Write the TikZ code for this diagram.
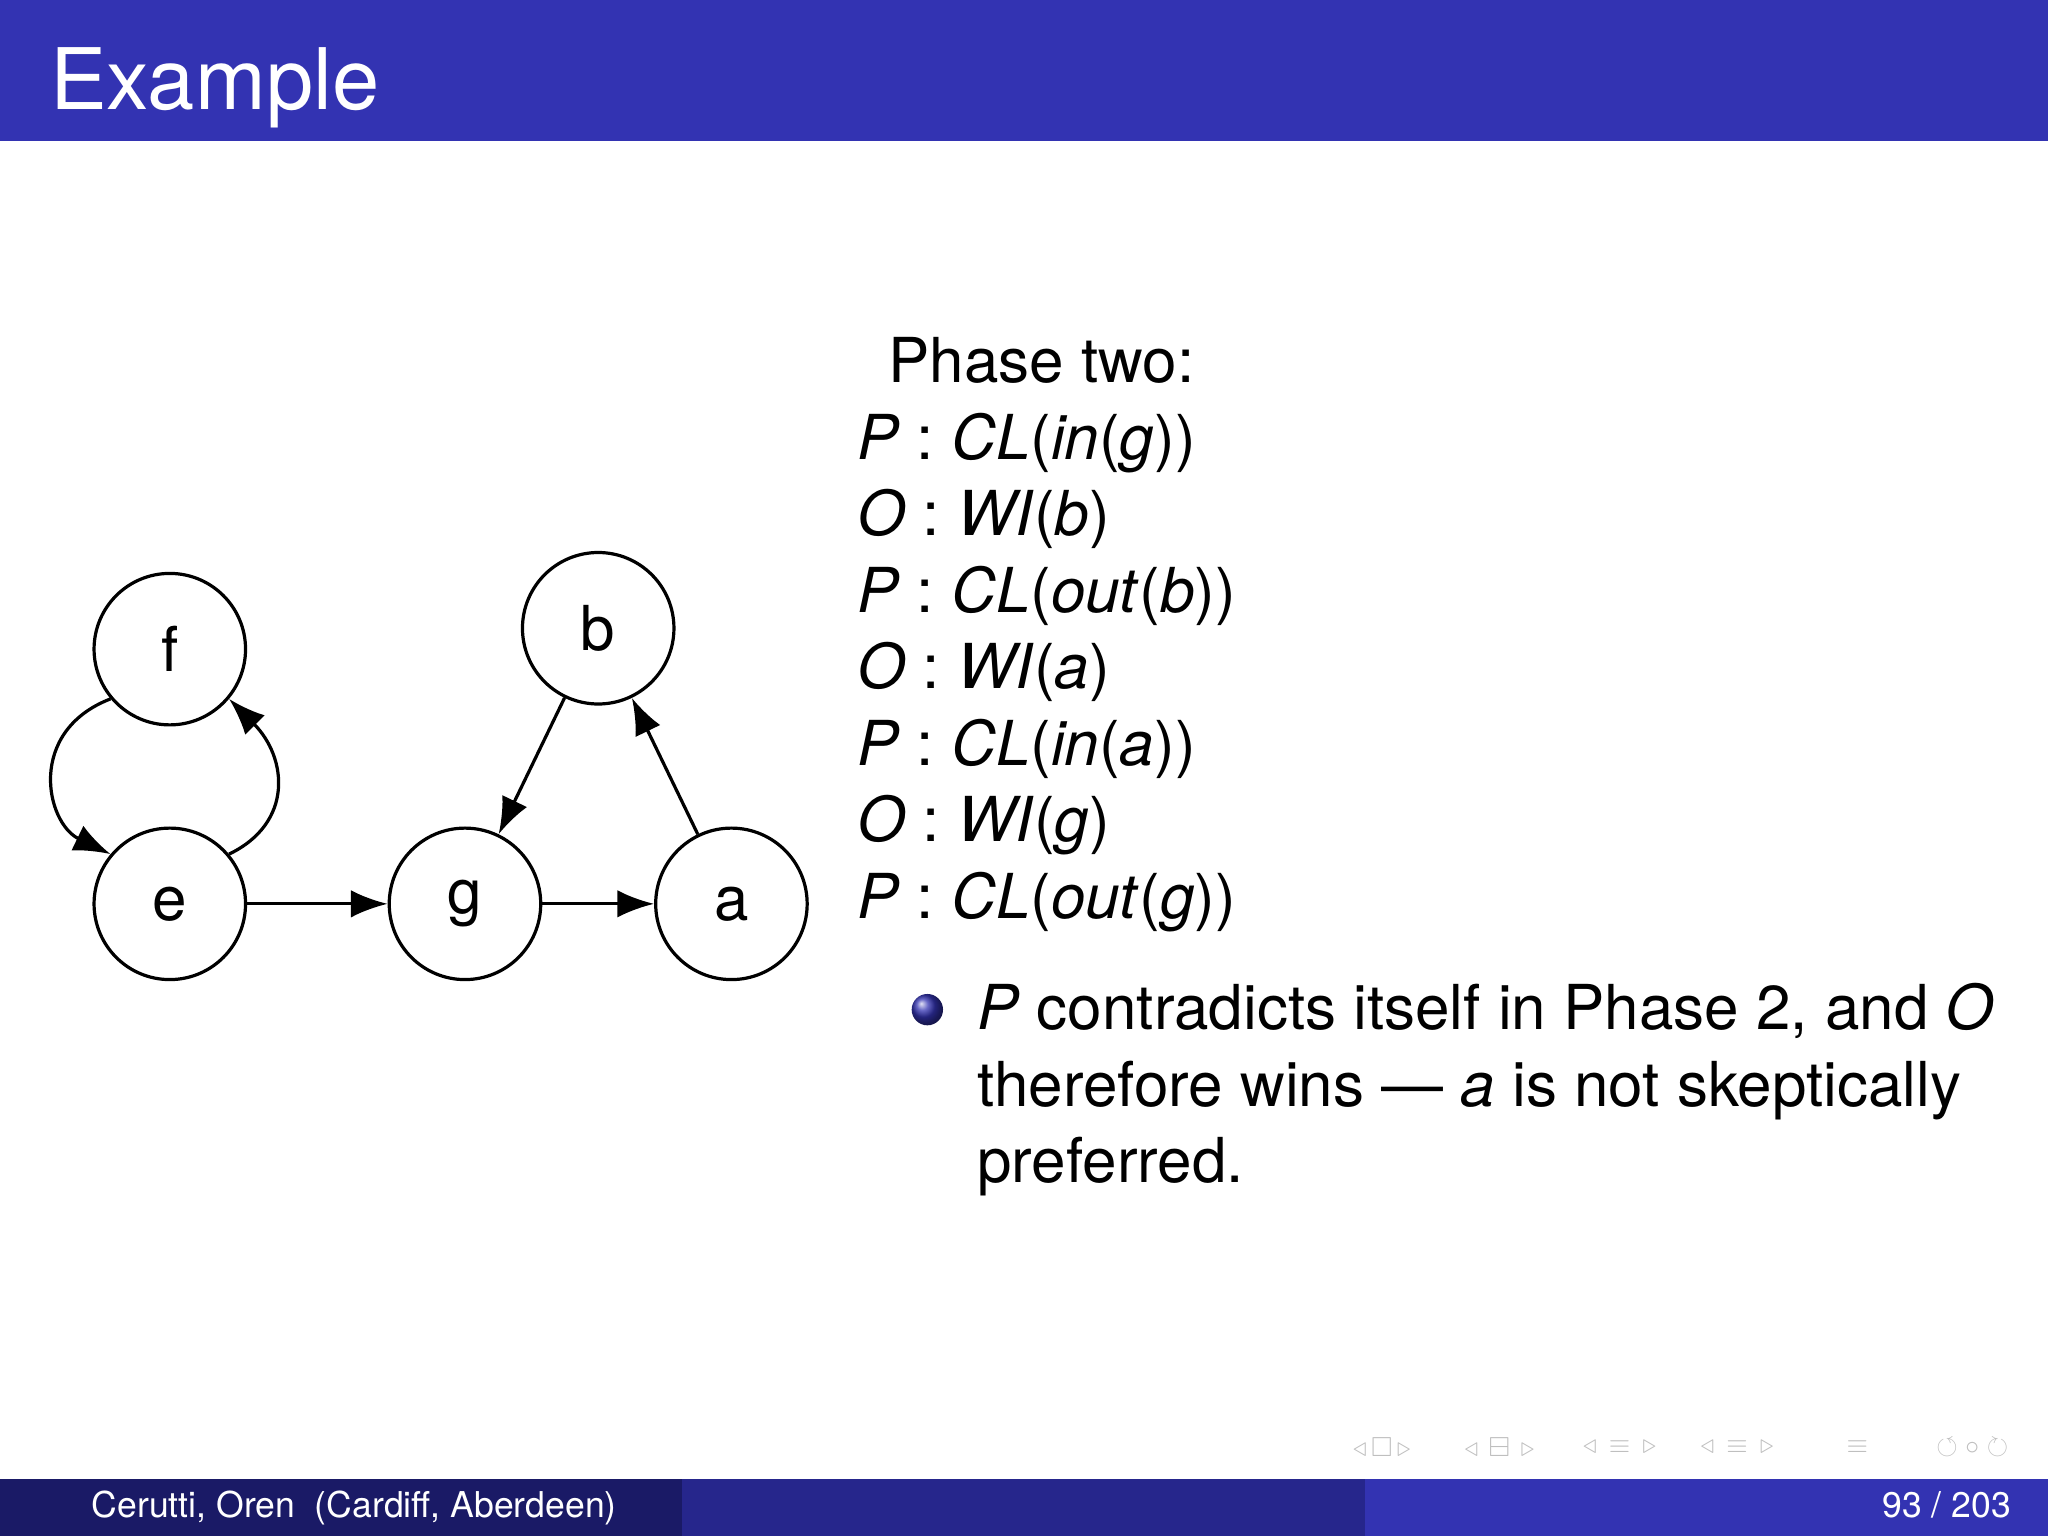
\documentclass[tikz,border=0pt]{standalone}
\usepackage{amssymb}
\usepackage{fontspec}
\setmainfont{TeX Gyre Heros}
\usetikzlibrary{arrows.meta,shadings}
\definecolor{bar}{HTML}{3333B2}
\definecolor{barA}{HTML}{1A1A66}
\definecolor{barB}{HTML}{26268C}
\begin{document}
\begin{tikzpicture}[x=0.02cm,y=-0.02cm,
  st/.style={circle,draw,line width=1.4pt,minimum size=2.32cm,inner sep=0pt,font=\fontsize{27}{33}\selectfont},
  ed/.style={line width=1.4pt,-{Latex[length=16pt,width=12pt]}},
  tx/.style={anchor=base west,inner sep=0pt,font=\fontsize{27}{33}\selectfont},
  nav/.style={text=gray!50,font=\fontsize{12}{12}\selectfont,inner sep=0pt}]
\useasboundingbox (0,0) rectangle (1568,1176);
\fill[bar] (0,0) rectangle (1568,108);
\node[anchor=base west,text=white,inner sep=0pt,font=\fontsize{37}{44}\selectfont] (title) at (38,84) {Example};
\fill[barA] (0,1132) rectangle (522,1176);
\fill[barB] (522,1132) rectangle (1045,1176);
\fill[bar] (1045,1132) rectangle (1568,1176);
\node[anchor=base west,text=white,inner sep=0pt,font=\fontsize{15.5}{19}\selectfont] (fl) at (70,1162) {Cerutti, Oren\ \ (Cardiff, Aberdeen)};
\node[anchor=base east,text=white,inner sep=0pt,font=\fontsize{15.5}{19}\selectfont] (fr) at (1540,1162) {93 / 203};
% nodes
\node[st] (f) at (130,497) {f};
\node[st] (b) at (458,481) {b};
\node[st] (e) at (130,692) {e};
\node[st] (g) at (356,692) {g};
\node[st] (a) at (560,692) {a};
\draw[ed] (e) -- (g);
\draw[ed] (g) -- (a);
\draw[ed] (a) -- (b);
\draw[ed] (b) -- (g);
\draw[ed] (f.220) .. controls (20,560) and (35,630) .. (e.140);
\draw[ed] (e.40) .. controls (225,630) and (220,580) .. (f.320);
% text
\node[tx] (h) at (680,293) {Phase two:};
\node[tx] (l1) at (656,352) {\textit{P} : \textit{CL}(\textit{in}(\textit{g}))};
\node[tx] (l2) at (656,410) {\textit{O} : \textit{WI}(\textit{b})};
\node[tx] (l3) at (656,469) {\textit{P} : \textit{CL}(\textit{out}(\textit{b}))};
\node[tx] (l4) at (656,527) {\textit{O} : \textit{WI}(\textit{a})};
\node[tx] (l5) at (656,586) {\textit{P} : \textit{CL}(\textit{in}(\textit{a}))};
\node[tx] (l6) at (656,644) {\textit{O} : \textit{WI}(\textit{g})};
\node[tx] (l7) at (656,703) {\textit{P} : \textit{CL}(\textit{out}(\textit{g}))};
\shade[ball color=bar] (710,773) circle (12);
\node[tx] (t1) at (748,788) {\textit{P} contradicts itself in Phase 2, and \textit{O}};
\node[tx] (t2) at (748,847) {therefore wins --- \textit{a} is not skeptically};
\node[tx] (t3) at (748,905) {preferred.};
% nav symbols
\node[nav] (n1) at (1058,1108) {$\triangleleft\,\square\,\triangleright$};
\node[nav] (n2) at (1148,1108) {$\triangleleft\,\boxminus\,\triangleright$};
\node[nav] (n3) at (1240,1108) {$\triangleleft\,\equiv\,\triangleright$};
\node[nav] (n4) at (1330,1108) {$\triangleleft\,\equiv\,\triangleright$};
\node[nav] (n5) at (1422,1108) {$\equiv$};
\node[nav] (n6) at (1510,1108) {$\circlearrowleft\circ\circlearrowright$};
\end{tikzpicture}
\end{document}
